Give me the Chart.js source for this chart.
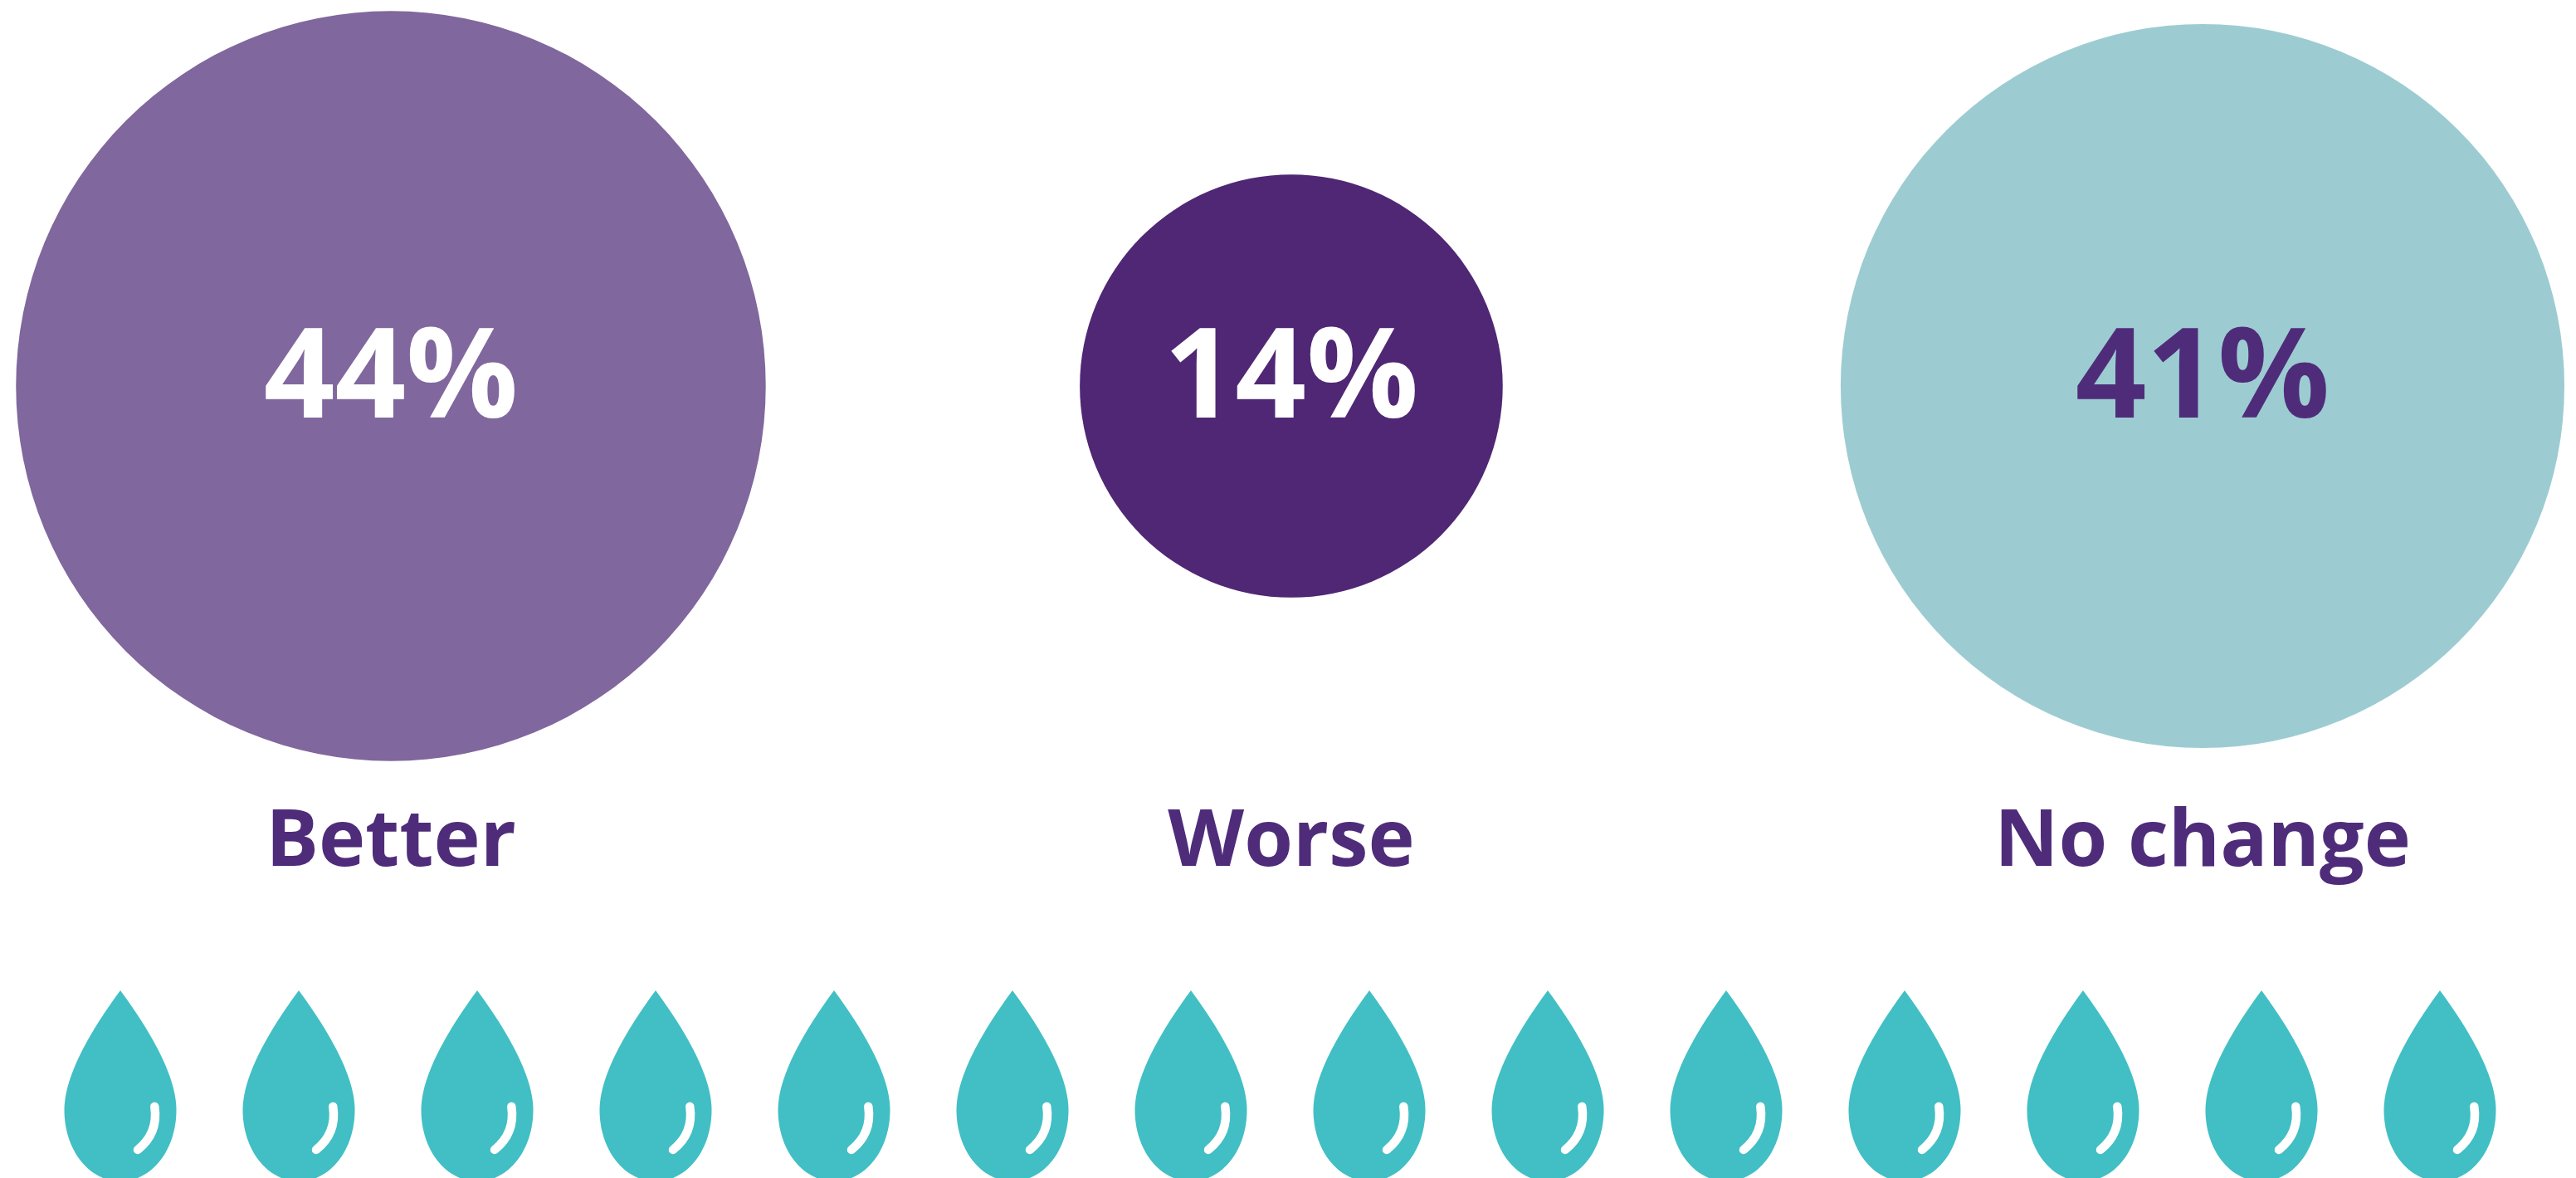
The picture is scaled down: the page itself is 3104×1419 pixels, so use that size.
<!DOCTYPE html>
<html><head><meta charset="utf-8">
<style>html,body{margin:0;padding:0;background:#fff}canvas{display:block}</style>
<script src="https://cdn.jsdelivr.net/npm/chart.js@4"></script>
</head><body>
<div style="width:3104px;height:1419px"><canvas id="c" width="3104" height="1419"></canvas></div>
<script>
const categories = ['Better', 'Worse', 'No change'];
const percentValues = [44, 14, 41];
const percentLabels = ['44%', '14%', '41%'];
const categorySlots = [0, 0.994, 2];
const dropSlots = [0,1,2,3,4,5,6,7,8,9,10,11,12,13];

const circleColors = ['#80679D', '#4F2774', '#9CCCD1'];
const labelColors = ['#FFFFFF', '#FFFFFF', '#4F2C7A'];
const TEXT = '#4F2C7A', DROP = '#41BFC4';
const FONT = '"Open Sans", sans-serif';

function makeDrop(){
  const W=136,H=230,c=document.createElement('canvas');
  c.width=W;c.height=H;
  const g=c.getContext('2d');
  g.translate(W/2,0);
  g.fillStyle=DROP;
  g.beginPath();g.moveTo(0,0);
  g.bezierCurveTo(-22,30,-67.5,95,-67.5,144);
  g.bezierCurveTo(-67.5,192,-38,230,0,230);
  g.bezierCurveTo(38,230,67.5,192,67.5,144);
  g.bezierCurveTo(67.5,95,22,30,0,0);
  g.closePath();g.fill();
  g.strokeStyle='#fff';g.lineWidth=10.5;g.lineCap='round';
  g.beginPath();g.moveTo(41.3,140);g.quadraticCurveTo(46,172,21,192);g.stroke();
  return c;
}
const dropImg = makeDrop();

const percentText = {
  id:'percentText',
  afterDatasetsDraw(chart){
    const ctx=chart.ctx, meta=chart.getDatasetMeta(1);
    ctx.save();
    ctx.font='700 150px '+FONT;ctx.textAlign='center';ctx.textBaseline='alphabetic';
    meta.data.forEach((el,i)=>{
      ctx.fillStyle=labelColors[i];
      ctx.fillText(percentLabels[i],el.x,el.y+38);
    });
    ctx.restore();
  }
};

new Chart(document.getElementById('c'),{
  type:'bubble',
  plugins:[percentText],
  data:{datasets:[
    {label:'Water drops',type:'scatter',xAxisID:'xDrops',order:2,
     data:dropSlots.map(s=>({x:s,y:0})),pointStyle:dropImg,pointRadius:115,clip:false},
    {label:'Share',xAxisID:'x',order:1,clip:false,
     data:percentValues.map((v,i)=>({x:categorySlots[i],y:1,v})),
     backgroundColor:circleColors,borderWidth:0,
     radius:ctx=>68.1*Math.sqrt(ctx.raw.v)}
  ]},
  options:{
    responsive:false,animation:false,devicePixelRatio:1,
    layout:{padding:0,autoPadding:false},
    plugins:{legend:{display:false},tooltip:{enabled:false}},
    scales:{
      x:{type:'linear',min:-0.4315,max:2.4123,position:{y:0.4236},
         grid:{display:false},border:{display:false},
         afterBuildTicks(a){a.ticks=categorySlots.map(s=>({value:s}));},
         ticks:{autoSkip:false,maxRotation:0,padding:0,color:TEXT,
           font:{family:FONT,size:95,weight:'700'},
           callback:(v)=>categories[categorySlots.indexOf(v)]}},
      xDrops:{type:'linear',min:-0.6744,max:13.763,display:false},
      y:{type:'linear',min:-0.1317,max:1.5516,display:false}
    }
  }
});
</script>
</body></html>
